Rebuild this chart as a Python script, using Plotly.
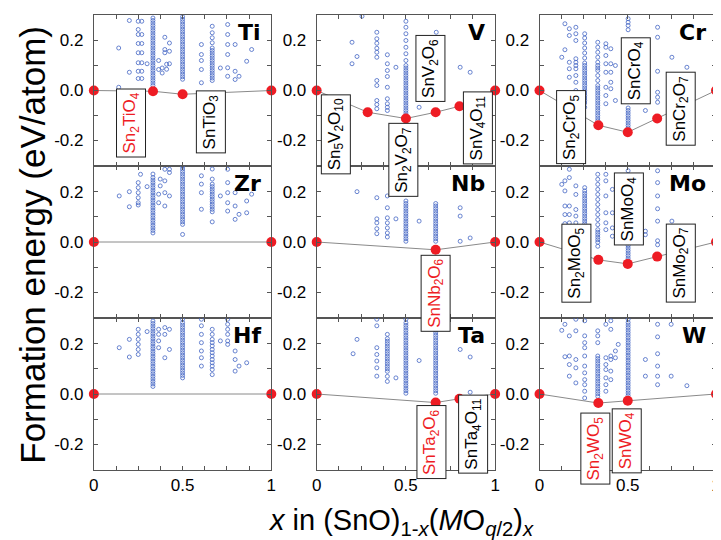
import plotly.graph_objects as go

# ---------------- data ----------------
elements = ["Ti", "V", "Cr", "Zr", "Nb", "Mo", "Hf", "Ta", "W"]

# convex hull points (x, formation energy in eV/atom)
ti_hull_x = [0, 1/3, 0.5, 1]
ti_hull_y = [0.0, -0.003, -0.015, 0.0]
v_hull_x = [0, 2/7, 0.5, 2/3, 0.8, 1]
v_hull_y = [0.0, -0.087, -0.112, -0.087, -0.063, 0.0]
cr_hull_x = [0, 1/3, 0.5, 2/3, 1]
cr_hull_y = [0.0, -0.139, -0.167, -0.112, 0.0]
zr_hull_x = [0, 1]
zr_hull_y = [0.0, 0.0]
nb_hull_x = [0, 2/3, 1]
nb_hull_y = [0.0, -0.031, 0.0]
mo_hull_x = [0, 1/3, 0.5, 2/3, 1]
mo_hull_y = [0.0, -0.071, -0.087, -0.058, 0.0]
hf_hull_x = [0, 1]
hf_hull_y = [0.0, 0.0]
ta_hull_x = [0, 2/3, 0.8, 1]
ta_hull_y = [0.0, -0.034, -0.019, 0.0]
w_hull_x = [0, 1/3, 0.5, 1]
w_hull_y = [0.0, -0.036, -0.027, 0.0]

# candidate structures {x: [energies]}
ti_pts = {
    0.14: [0.17, 0.013], 0.20: [0.28, 0.073],
    0.25: [0.277, 0.244, 0.224, 0.188, 0.151, 0.111, 0.077, 0.048],
    0.27: [0.277, 0.224, 0.188, 0.151, 0.111, 0.077, 0.048],
    0.30: [0.107],
    0.333: [0.02, 0.03, 0.04, 0.05, 0.06, 0.07, 0.08, 0.09, 0.10, 0.11, 0.12, 0.13, 0.14,
            0.15, 0.16, 0.17, 0.18, 0.19, 0.20, 0.21, 0.22, 0.23, 0.24, 0.25, 0.26, 0.27, 0.28, 0.29],
    0.365: [0.12, 0.084], 0.385: [0.09, 0.07], 0.40: [0.213, 0.164, 0.151],
    0.41: [0.105, 0.085], 0.426: [0.19, 0.157, 0.107],
    0.5: [0.045, 0.055, 0.065, 0.075, 0.085, 0.095, 0.105, 0.115, 0.125, 0.135, 0.145, 0.155,
          0.165, 0.175, 0.185, 0.195, 0.205, 0.215, 0.225, 0.235, 0.245, 0.255, 0.265, 0.275, 0.285, 0.295],
    0.606: [0.184, 0.144, 0.12, 0.084, 0.031],
    0.667: [0.257, 0.231, 0.211, 0.191, 0.17, 0.16, 0.15, 0.14, 0.13, 0.12, 0.11, 0.10, 0.09,
            0.08, 0.07, 0.06, 0.05, 0.04],
    0.713: [0.09], 0.754: [0.264, 0.224, 0.184, 0.144, 0.091, 0.057],
    0.796: [0.184, 0.077, 0.044], 0.818: [0.057], 0.861: [0.117], 0.889: [0.164],
}
v_pts = {
    0.198: [0.193, 0.107], 0.226: [0.136], 0.254: [0.297],
    0.337: [0.233, 0.207, 0.189, 0.169, 0.153, 0.133, 0.04, 0.02, -0.04, -0.056, -0.073],
    0.396: [0.143, 0.107, 0.08, 0.056, 0.013, -0.033, -0.053, -0.067, -0.08],
    0.444: [0.093],
    0.5: [0.277, 0.253, 0.227, 0.2, 0.173, 0.147, 0.12, 0.10, 0.09, 0.08, 0.07, 0.06, 0.05,
          0.04, 0.03, 0.02, 0.01, 0.0, -0.01, -0.02, -0.03, -0.04, -0.05, -0.06, -0.07, -0.08, -0.09, -0.10],
    0.574: [-0.067], 0.67: [0.233], 0.804: [0.093], 0.86: [0.073],
}
cr_pts = {
    0.126: [0.133], 0.144: [0.267, 0.163], 0.169: [0.247, 0.22, 0.113, 0.087, 0.053],
    0.206: [0.253, 0.227, 0.2, 0.127, 0.113, 0.1, 0.087, 0.06, 0.033, 0.0],
    0.256: [0.227, 0.21, 0.19, 0.17, 0.15, 0.13, 0.11, 0.10, 0.09, 0.08, 0.07, 0.06, 0.05, 0.04,
            0.03, 0.02, 0.01, 0.0, -0.01, -0.02, -0.03, -0.04, -0.05, -0.067],
    0.33: [0.193, 0.173, 0.153, 0.133, 0.113, 0.10, 0.09, 0.08, 0.06, 0.04, 0.02, 0.01, 0.0,
           -0.01, -0.02, -0.03, -0.04, -0.05, -0.06, -0.07, -0.08, -0.09, -0.10, -0.11, -0.12],
    0.376: [0.187, 0.173, 0.14, 0.107, 0.073, 0.013, -0.02, -0.053],
    0.404: [0.167, 0.107, 0.073, 0.033, 0.007], 0.43: [0.1, -0.04],
    0.502: [0.287, 0.273, 0.26, 0.243, -0.07, -0.08, -0.09, -0.10, -0.11, -0.12, -0.13, -0.14, -0.15],
    0.6: [-0.08], 0.669: [0.253, 0.213, 0.077, -0.007, -0.027, -0.047],
    0.75: [0.133], 0.835: [0.093],
}
zr_pts = {
    0.143: [0.183], 0.2: [0.2, 0.14],
    0.25: [0.236, 0.216, 0.196, 0.176, 0.156, 0.147], 0.263: [0.269], 0.3: [0.22],
    0.333: [0.036, 0.046, 0.056, 0.066, 0.076, 0.086, 0.096, 0.106, 0.116, 0.126, 0.136, 0.146,
            0.156, 0.166, 0.176, 0.186, 0.196, 0.206, 0.216, 0.226, 0.236, 0.246, 0.256, 0.27],
    0.365: [0.19, 0.156], 0.374: [0.25, 0.223], 0.4: [0.289, 0.243, 0.196, 0.143],
    0.426: [0.289, 0.276, 0.183],
    0.5: [0.03, 0.07, 0.08, 0.09, 0.10, 0.11, 0.12, 0.13, 0.14, 0.15, 0.16, 0.17, 0.18, 0.19,
          0.20, 0.21, 0.22, 0.23, 0.24, 0.25, 0.26, 0.27, 0.28, 0.29, 0.30],
    0.606: [0.263, 0.23, 0.196, 0.13],
    0.667: [0.08, 0.12, 0.13, 0.14, 0.15, 0.16, 0.17, 0.18, 0.19, 0.20, 0.21, 0.22, 0.23, 0.25, 0.29],
    0.713: [0.183], 0.754: [0.289, 0.236, 0.196, 0.156, 0.123],
    0.796: [0.196, 0.143, 0.09], 0.818: [0.11], 0.861: [0.163, 0.116], 0.889: [0.19],
}
nb_pts = {
    0.226: [0.2], 0.337: [0.176, 0.092, 0.076, 0.053, 0.033],
    0.396: [0.183, 0.136, 0.096, 0.076, 0.056, 0.036, 0.02], 0.444: [0.092],
    0.5: [0.003, 0.013, 0.023, 0.033, 0.043, 0.053, 0.063, 0.073, 0.083, 0.093, 0.103, 0.113,
          0.123, 0.133, 0.143, 0.153, 0.163],
    0.574: [0.083],
    0.667: [0.003, 0.013, 0.023, 0.033, 0.043, 0.053, 0.063, 0.073, 0.083, 0.093, 0.103, 0.113,
            0.123, 0.133, 0.143, 0.153],
    0.804: [0.136, 0.103, 0.003], 0.86: [0.016],
}
mo_pts = {
    0.126: [0.229], 0.144: [0.243, 0.203, 0.143, 0.109, 0.073],
    0.169: [0.289, 0.256, 0.143, 0.109, 0.076], 0.206: [0.223, 0.189, 0.129, 0.103, 0.076],
    0.256: [0.043, 0.053, 0.063, 0.073, 0.083, 0.093, 0.103, 0.113, 0.123, 0.133, 0.143, 0.153,
            0.163, 0.173, 0.183, 0.193, 0.203, 0.216],
    0.33: [0.269, 0.249, 0.229, 0.209, 0.189, 0.169, 0.149, 0.129, 0.109, 0.089, 0.069, 0.049,
           0.039, 0.029, 0.019, 0.009, -0.001, -0.017],
    0.376: [0.269, 0.243, 0.183, 0.116, 0.076, 0.049], 0.413: [0.209, 0.116, 0.056, 0.023],
    0.502: [0.283, -0.004, -0.014, -0.024, -0.034, -0.044, -0.054, -0.064, -0.074],
    0.6: [0.043, 0.029], 0.669: [0.283, 0.236, 0.183, 0.132, 0.083, 0.005, -0.011],
    0.75: [0.083],
}
hf_pts = {
    0.143: [0.184], 0.2: [0.217, 0.147],
    0.25: [0.257, 0.237, 0.217, 0.197, 0.177, 0.157], 0.3: [0.248],
    0.333: [0.03, 0.04, 0.05, 0.06, 0.07, 0.08, 0.09, 0.10, 0.11, 0.12, 0.13, 0.14, 0.15, 0.16,
            0.17, 0.18, 0.19, 0.20, 0.21, 0.22, 0.23, 0.24, 0.25, 0.26, 0.27, 0.28, 0.29],
    0.365: [0.257, 0.237, 0.211, 0.184], 0.4: [0.264, 0.237, 0.144], 0.426: [0.257, 0.177],
    0.5: [0.064, 0.074, 0.084, 0.094, 0.104, 0.114, 0.124, 0.134, 0.144, 0.154, 0.164, 0.174,
          0.184, 0.194, 0.204, 0.214, 0.224, 0.234, 0.244, 0.254, 0.264, 0.274, 0.284, 0.297],
    0.606: [0.297, 0.271, 0.237, 0.204, 0.171, 0.144, 0.111],
    0.667: [0.077, 0.097, 0.111, 0.124, 0.137, 0.151, 0.164, 0.177, 0.191, 0.204, 0.217, 0.237, 0.257],
    0.713: [0.211], 0.754: [0.297, 0.277, 0.257, 0.237, 0.211, 0.197],
    0.796: [0.171, 0.137, 0.091], 0.818: [0.111], 0.861: [0.124],
}
ta_pts = {
    0.204: [0.16], 0.226: [0.217],
    0.337: [0.297, 0.271, 0.184, 0.157, 0.131, 0.104, 0.071],
    0.396: [0.05, 0.07, 0.09, 0.10, 0.11, 0.12, 0.13, 0.14, 0.15, 0.16, 0.17, 0.18, 0.19, 0.20,
            0.21, 0.22, 0.237],
    0.444: [0.064],
    0.5: [0.003, 0.013, 0.023, 0.033, 0.043, 0.053, 0.063, 0.073, 0.083, 0.093, 0.103, 0.113,
          0.123, 0.133, 0.143, 0.153, 0.163, 0.173, 0.183, 0.193, 0.203, 0.213, 0.223, 0.233,
          0.243, 0.253, 0.263, 0.273, 0.283, 0.297],
    0.574: [0.133],
    0.667: [0.003, 0.013, 0.023, 0.033, 0.043, 0.053, 0.063, 0.073, 0.083, 0.093, 0.103, 0.113,
            0.123, 0.133, 0.143, 0.153, 0.163, 0.173, 0.183, 0.193, 0.203, 0.213, 0.223, 0.233,
            0.243, 0.253, 0.263, 0.273, 0.283, 0.297],
    0.804: [0.177], 0.86: [0.147, 0.007],
}
w_pts = {
    0.126: [0.253], 0.144: [0.277, 0.148], 0.169: [0.231, 0.151, 0.117, 0.071],
    0.206: [0.297, 0.251, 0.137, 0.104, 0.044],
    0.256: [0.291, 0.231, 0.204, 0.184, 0.151, 0.111, 0.084, 0.057, 0.037, 0.011, -0.016],
    0.33: [0.251, 0.231, 0.204, 0.151, 0.141, 0.131, 0.121, 0.111, 0.101, 0.091, 0.081, 0.071,
           0.061, 0.051, 0.041, 0.031, 0.021, 0.011, 0.001, -0.009],
    0.376: [0.277, 0.144, 0.117, 0.097, 0.064, 0.037, 0.011],
    0.404: [0.291, 0.257, 0.151, 0.137, 0.091, 0.057], 0.43: [0.171, 0.144], 0.446: [0.197],
    0.502: [-0.016, -0.006, 0.004, 0.014, 0.024, 0.034, 0.044, 0.054, 0.064, 0.074, 0.084, 0.094,
            0.104, 0.114, 0.124, 0.134, 0.144, 0.154, 0.164, 0.174, 0.184, 0.194, 0.204, 0.214,
            0.224, 0.234, 0.244, 0.254, 0.264, 0.274, 0.284, 0.297],
    0.6: [0.137, 0.071], 0.669: [0.277, 0.227, 0.16, 0.111, 0.071, 0.037],
    0.746: [0.277, 0.071], 0.835: [0.033],
}

# phase labels: (text, x, y, is_stable_red)
ti_labels = [("Sn<sub>2</sub>TiO<sub>4</sub>", 0.208, -0.129, True),
             ("SnTiO<sub>3</sub>", 0.658, -0.125, False)]
v_labels = [("Sn<sub>5</sub>V<sub>2</sub>O<sub>10</sub>", 0.106, -0.177, False),
            ("Sn<sub>2</sub>V<sub>2</sub>O<sub>7</sub>", 0.487, -0.279, False),
            ("SnV<sub>2</sub>O<sub>6</sub>", 0.636, 0.087, False),
            ("SnV<sub>4</sub>O<sub>11</sub>", 0.902, -0.149, False)]
cr_labels = [("Sn<sub>2</sub>CrO<sub>5</sub>", 0.179, -0.146, False),
             ("SnCrO<sub>4</sub>", 0.547, 0.077, False),
             ("SnCr<sub>2</sub>O<sub>7</sub>", 0.80, -0.074, False)]
zr_labels = []
nb_labels = [("SnNb<sub>2</sub>O<sub>6</sub>", 0.667, -0.203, True)]
mo_labels = [("Sn<sub>2</sub>MoO<sub>5</sub>", 0.207, -0.086, False),
             ("SnMoO<sub>4</sub>", 0.508, 0.13, False),
             ("SnMo<sub>2</sub>O<sub>7</sub>", 0.80, -0.083, False)]
hf_labels = []
ta_labels = [("SnTa<sub>2</sub>O<sub>6</sub>", 0.642, -0.19, True),
             ("SnTa<sub>4</sub>O<sub>11</sub>", 0.878, -0.16, False)]
w_labels = [("Sn<sub>2</sub>WO<sub>5</sub>", 0.317, -0.215, True),
            ("SnWO<sub>4</sub>", 0.496, -0.188, True)]

x_tick_vals = [0, 0.125, 0.25, 0.375, 0.5, 0.625, 0.75, 0.875, 1]
x_tick_text = ["0", "", "", "", "0.5", "", "", "", "1"]
y_tick_vals = [-0.2, -0.1, 0.0, 0.1, 0.2]
y_tick_text = ["-0.2", "", "0.0", "", "0.2"]

hulls = [(ti_hull_x, ti_hull_y), (v_hull_x, v_hull_y), (cr_hull_x, cr_hull_y),
         (zr_hull_x, zr_hull_y), (nb_hull_x, nb_hull_y), (mo_hull_x, mo_hull_y),
         (hf_hull_x, hf_hull_y), (ta_hull_x, ta_hull_y), (w_hull_x, w_hull_y)]
points = [ti_pts, v_pts, cr_pts, zr_pts, nb_pts, mo_pts, hf_pts, ta_pts, w_pts]
labels = [ti_labels, v_labels, cr_labels, zr_labels, nb_labels, mo_labels,
          hf_labels, ta_labels, w_labels]

# ---------------- figure ----------------
# page has an 8px body margin: figure pixel = page pixel - 8
OFF = 8
W, H = 721 - OFF, 540 - OFF


def px(p):
    return (p - OFF) / W


def py(p):
    return 1 - (p - OFF) / H


col_dom = [(px(90), px(270)), (px(316), px(497)), (px(542), 1.0)]
row_dom = [(py(166), py(15)), (py(318), py(166)), (py(470), py(318))]

FONT = "Liberation Sans, Arial, sans-serif"
RED = "#ee1c24"
BLUE = "#4466c4"
AXC = "#555555"

fig = go.Figure()
layout = dict(width=W, height=H, margin=dict(l=0, r=0, t=0, b=0),
              paper_bgcolor="white", plot_bgcolor="white", showlegend=False,
              font=dict(family=FONT, size=17, color="black"))
annotations = []

for i in range(9):
    r, c = divmod(i, 3)
    n = i + 1
    xa = "x" if n == 1 else f"x{n}"
    ya = "y" if n == 1 else f"y{n}"
    xs, ys = [], []
    for xv, yl in points[i].items():
        for yv in yl:
            xs.append(xv)
            ys.append(yv)
    fig.add_trace(go.Scatter(x=xs, y=ys, mode="markers", xaxis=xa, yaxis=ya,
                             marker=dict(symbol="circle-open", size=4, color=BLUE,
                                         line=dict(width=0.8, color=BLUE))))
    hx, hy = hulls[i]
    fig.add_trace(go.Scatter(x=hx, y=hy, mode="lines+markers", xaxis=xa, yaxis=ya,
                             cliponaxis=False,
                             line=dict(color="#8a8a8a", width=1),
                             marker=dict(size=10, color=RED)))
    xkey = "xaxis" if n == 1 else f"xaxis{n}"
    ykey = "yaxis" if n == 1 else f"yaxis{n}"
    layout[xkey] = dict(domain=list(col_dom[c]), anchor=ya, range=[0, 1],
                        showline=True, linecolor=AXC, linewidth=1, mirror="ticks",
                        ticks="inside", ticklen=4, tickcolor=AXC, tickwidth=1,
                        tickvals=x_tick_vals, ticktext=x_tick_text,
                        showticklabels=(r == 2), showgrid=False, zeroline=False,
                        tickfont=dict(size=17, family=FONT))
    layout[ykey] = dict(domain=list(row_dom[r]), anchor=xa, range=[-0.302, 0.302],
                        showline=True, linecolor=AXC, linewidth=1, mirror="ticks",
                        ticks="inside", ticklen=4, tickcolor=AXC, tickwidth=1,
                        tickvals=y_tick_vals, ticktext=y_tick_text,
                        showgrid=False, zeroline=False, ticklabelstandoff=6,
                        tickfont=dict(size=17, family=FONT))
    annotations.append(dict(text="<b>" + elements[i] + "</b>", x=0.955, y=0.232,
                            xref=xa, yref=ya, xanchor="right", yanchor="middle",
                            showarrow=False,
                            font=dict(size=22, family="DejaVu Sans, sans-serif", color="black")))
    for txt, lx, ly, red in labels[i]:
        annotations.append(dict(text=txt, x=lx, y=ly, xref=xa, yref=ya,
                                xanchor="center", yanchor="middle", textangle=-90,
                                showarrow=False, bgcolor="white", bordercolor="#222222",
                                borderwidth=1, borderpad=3,
                                font=dict(size=17, family=FONT, color=RED if red else "black")))

annotations.append(dict(text="Formation energy (eV/atom)", x=px(27), y=py(245),
                        xref="paper", yref="paper", xanchor="center", yanchor="middle",
                        textangle=-90, showarrow=False,
                        font=dict(size=35, family=FONT, color="black")))
annotations.append(dict(text="<i>x</i> in (SnO)<sub>1-<i>x</i></sub>(<i>M</i>O<sub><i>q</i>/2</sub>)<sub><i>x</i></sub>",
                        x=px(402), y=py(522), xref="paper", yref="paper",
                        xanchor="center", yanchor="middle", showarrow=False,
                        font=dict(size=29, family=FONT, color="black")))
layout["annotations"] = annotations
fig.update_layout(**layout)
fig.write_html("out.html")
